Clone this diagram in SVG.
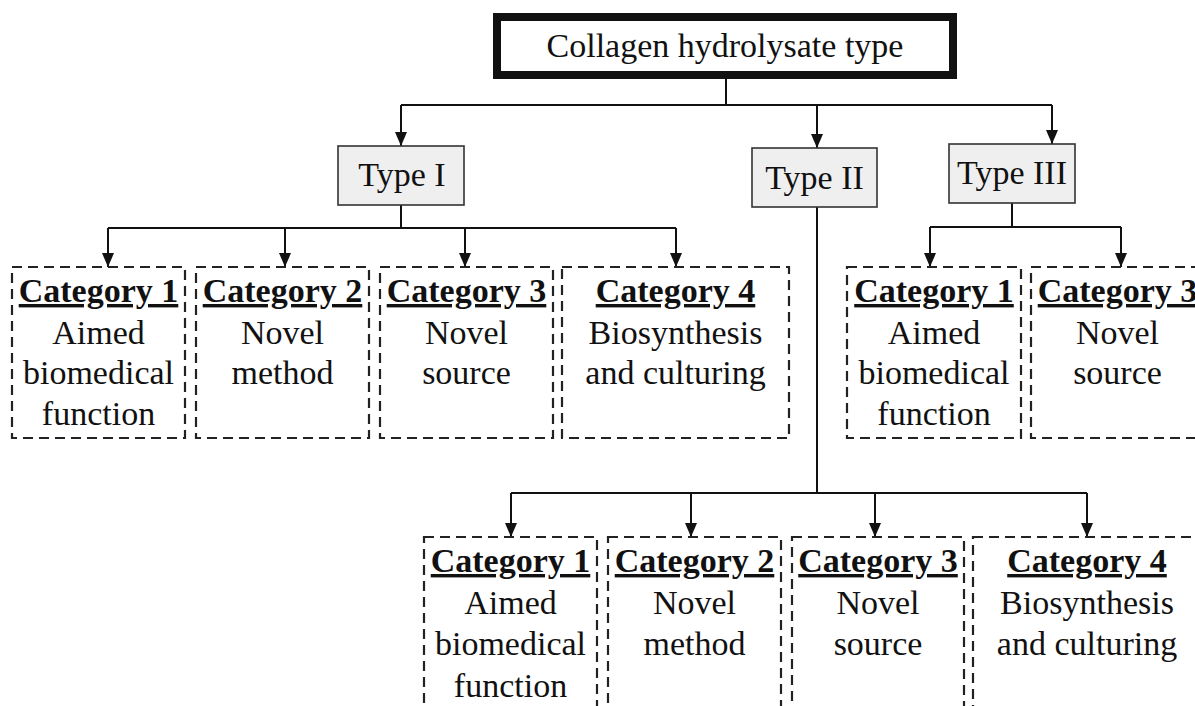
<svg xmlns="http://www.w3.org/2000/svg" width="1195" height="706" viewBox="0 0 1195 706">
<style>
text{font-family:"Liberation Serif","Times New Roman",serif;font-size:34px;fill:#111;text-anchor:middle}
.h{font-weight:bold;text-decoration:underline}
.type{fill:#efefef;stroke:#333;stroke-width:1.6}
.cat{fill:#fff;stroke:#222;stroke-width:2.2;stroke-dasharray:10 6}
.conn path{fill:none;stroke:#111;stroke-width:2}
</style>
<defs>
<marker id="arr" markerUnits="userSpaceOnUse" markerWidth="14" markerHeight="12" refX="14" refY="6" orient="auto">
<path d="M0,0 L14,6 L0,12 z" fill="#111"/>
</marker>
</defs>
<rect width="1195" height="706" fill="#fff"/>

<g class="conn">
<path d="M726,79 V105"/>
<path d="M401,105 H1052"/>
<path d="M401,105 V146" marker-end="url(#arr)"/>
<path d="M817,105 V148" marker-end="url(#arr)"/>
<path d="M1052,105 V144" marker-end="url(#arr)"/>
<path d="M401,205 V228"/>
<path d="M108,228 H676"/>
<path d="M108,228 V267" marker-end="url(#arr)"/>
<path d="M285,228 V267" marker-end="url(#arr)"/>
<path d="M465,228 V267" marker-end="url(#arr)"/>
<path d="M676,228 V267" marker-end="url(#arr)"/>
<path d="M1012,203 V227"/>
<path d="M930,227 H1121"/>
<path d="M930,227 V267" marker-end="url(#arr)"/>
<path d="M1121,227 V267" marker-end="url(#arr)"/>
<path d="M817,207 V493"/>
<path d="M511,493 H1087"/>
<path d="M511,493 V537" marker-end="url(#arr)"/>
<path d="M691,493 V537" marker-end="url(#arr)"/>
<path d="M875,493 V537" marker-end="url(#arr)"/>
<path d="M1087,493 V537" marker-end="url(#arr)"/>
</g>

<g id="root">
<rect x="497" y="17" width="456" height="58" fill="#fff" stroke="#111" stroke-width="8"/>
<text x="725" y="57">Collagen hydrolysate type</text>
</g>

<g id="type1">
<rect class="type" x="338" y="146" width="126" height="59"/>
<text x="402" y="186">Type I</text>
</g>
<g id="type2">
<rect class="type" x="752" y="148" width="125" height="59"/>
<text x="814.5" y="189">Type II</text>
</g>
<g id="type3">
<rect class="type" x="949" y="144" width="126" height="59"/>
<text x="1012" y="184">Type III</text>
</g>

<g id="t1c1">
<rect class="cat" x="12" y="267" width="173" height="171"/>
<text class="h" x="98.5" y="302">Category 1</text>
<text x="98.5" y="344">Aimed</text>
<text x="98.5" y="384">biomedical</text>
<text x="98.5" y="425">function</text>
</g>
<g id="t1c2">
<rect class="cat" x="196" y="267" width="173" height="171"/>
<text class="h" x="282.5" y="302">Category 2</text>
<text x="282.5" y="344">Novel</text>
<text x="282.5" y="384">method</text>
</g>
<g id="t1c3">
<rect class="cat" x="380" y="267" width="173" height="171"/>
<text class="h" x="466.5" y="302">Category 3</text>
<text x="466.5" y="344">Novel</text>
<text x="466.5" y="384">source</text>
</g>
<g id="t1c4">
<rect class="cat" x="562" y="267" width="227" height="171"/>
<text class="h" x="675.5" y="302">Category 4</text>
<text x="675.5" y="344">Biosynthesis</text>
<text x="675.5" y="384">and culturing</text>
</g>

<g id="t3c1">
<rect class="cat" x="847" y="267" width="174" height="171"/>
<text class="h" x="934" y="302">Category 1</text>
<text x="934" y="344">Aimed</text>
<text x="934" y="384">biomedical</text>
<text x="934" y="425">function</text>
</g>
<g id="t3c3">
<rect class="cat" x="1031" y="267" width="173" height="171"/>
<text class="h" x="1117.5" y="302">Category 3</text>
<text x="1117.5" y="344">Novel</text>
<text x="1117.5" y="384">source</text>
</g>

<g id="t2c1">
<rect class="cat" x="424" y="537" width="173" height="190"/>
<text class="h" x="510.5" y="572">Category 1</text>
<text x="510.5" y="614">Aimed</text>
<text x="510.5" y="655">biomedical</text>
<text x="510.5" y="697">function</text>
</g>
<g id="t2c2">
<rect class="cat" x="608" y="537" width="173" height="190"/>
<text class="h" x="694.5" y="572">Category 2</text>
<text x="694.5" y="614">Novel</text>
<text x="694.5" y="655">method</text>
</g>
<g id="t2c3">
<rect class="cat" x="792" y="537" width="172" height="190"/>
<text class="h" x="878" y="572">Category 3</text>
<text x="878" y="614">Novel</text>
<text x="878" y="655">source</text>
</g>
<g id="t2c4">
<rect class="cat" x="973" y="537" width="227" height="190"/>
<text class="h" x="1087" y="572">Category 4</text>
<text x="1087" y="614">Biosynthesis</text>
<text x="1087" y="655">and culturing</text>
</g>
</svg>
